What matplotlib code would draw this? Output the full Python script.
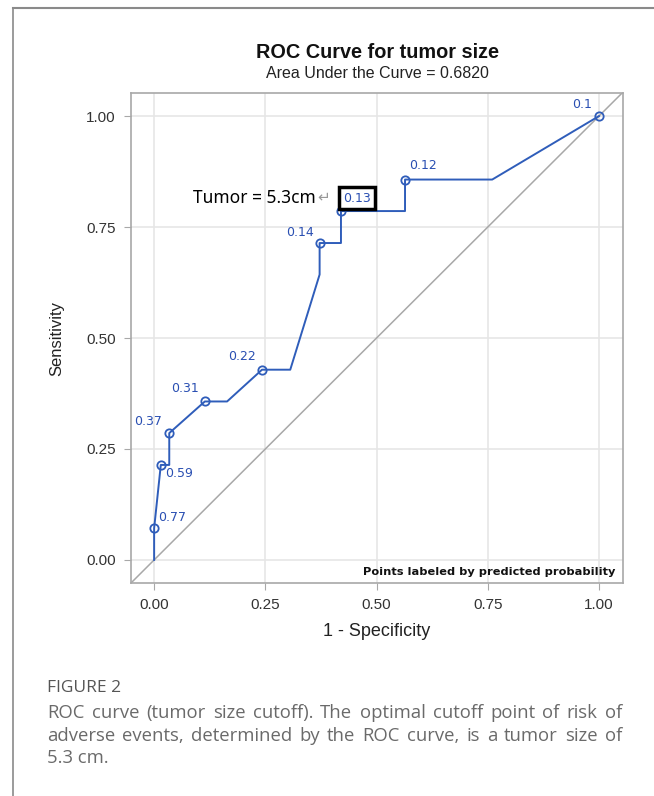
import numpy as np
import matplotlib
matplotlib.use("Agg")
import matplotlib.pyplot as plt
from matplotlib.lines import Line2D

plt.rcParams['font.family'] = ['Liberation Sans', 'DejaVu Sans']

# ROC curve vertices (1 - specificity, sensitivity)
fpr = [0.0, 0.0, 0.015, 0.034, 0.034, 0.114, 0.164, 0.2425, 0.306, 0.372, 0.372,
       0.42, 0.42, 0.564, 0.564, 0.76, 1.0]
tpr = [0.0, 0.0714, 0.214, 0.214, 0.2857, 0.357, 0.357, 0.4286, 0.4286, 0.643, 0.714,
       0.714, 0.786, 0.786, 0.857, 0.857, 1.0]

# points labeled by predicted probability
pt_fpr = [0.0, 0.015, 0.034, 0.114, 0.2425, 0.372, 0.42, 0.564, 1.0]
pt_tpr = [0.0714, 0.214, 0.2857, 0.357, 0.4286, 0.714, 0.786, 0.857, 1.0]
pt_labels = ['0.77', '0.59', '0.37', '0.31', '0.22', '0.14', '0.13', '0.12', '0.1']
# label offsets in pixels (dx, dy)
pt_offsets = [(18, 11), (18, -9), (-21, 12), (-20, 13), (-20, 13), (-20, 11), (16, 13), (18, 14), (-17, 12)]

ticks = [0.0, 0.25, 0.5, 0.75, 1.0]
tick_labels = ['0.00', '0.25', '0.50', '0.75', '1.00']

caption_lines = [
    "ROC curve (tumor size cutoff). The optimal cutoff point of risk of",
    "adverse events, determined by the ROC curve, is a tumor size of",
    "5.3 cm.",
]

BLUE = '#2F5DBA'
LBLUE = '#2A4FB2'
GRID = '#E6E6E6'
SPINE = '#A8A8A8'

fig = plt.figure(figsize=(6.54, 7.96), dpi=100)
ax = fig.add_axes([131 / 654, 1 - 583 / 796, 492 / 654, 490 / 796])

ax.set_xlim(-0.052, 1.054)
ax.set_ylim(-0.052, 1.052)
ax.set_xticks(ticks)
ax.set_yticks(ticks)
ax.set_xticklabels(tick_labels, fontsize=11, color='#333333')
ax.set_yticklabels(tick_labels, fontsize=11, color='#333333')
ax.tick_params(length=5, color=SPINE, pad=6)
ax.grid(True, color=GRID, linewidth=1.2)
ax.set_axisbelow(True)
for s in ax.spines.values():
    s.set_color(SPINE)
    s.set_linewidth(1.2)

# chance diagonal
ax.axline((0, 0), (1, 1), color='#A8A8A8', linewidth=1.1, zorder=1)

# ROC curve
ax.plot(fpr, tpr, color=BLUE, linewidth=1.4, zorder=3)
ax.plot(pt_fpr, pt_tpr, 'o', markersize=6, markerfacecolor='none',
        markeredgecolor=BLUE, markeredgewidth=1.3, zorder=4)

for x, y, lab, (dx, dy) in zip(pt_fpr, pt_tpr, pt_labels, pt_offsets):
    kw = {}
    if lab == '0.13':
        kw['bbox'] = dict(boxstyle='square,pad=0.35', facecolor='white',
                          edgecolor='black', linewidth=2.5)
    ax.annotate(lab, (x, y), xytext=(dx, dy), textcoords='offset pixels',
                ha='center', va='center', fontsize=9, color=LBLUE, zorder=5,
                family='DejaVu Sans', **kw)

# manual annotation of the optimal cutoff
ax.annotate('Tumor = 5.3cm', (0.42, 0.786), xytext=(-25, 13), textcoords='offset pixels',
            ha='right', va='center', fontsize=12.5, color='black', family=['Noto Sans', 'DejaVu Sans'])
ax.annotate('\u21b5', (0.42, 0.786), xytext=(-17, 14), textcoords='offset pixels',
            ha='center', va='center', fontsize=11, color='#999999', family='DejaVu Sans')

ax.text(0.985, 0.022, 'Points labeled by predicted probability', transform=ax.transAxes,
        ha='right', va='center', fontsize=8.2, fontweight='bold', color='#111111',
        family='DejaVu Sans')

ax.set_xlabel('1 - Specificity', fontsize=13, color='#222222', labelpad=8)
ax.set_ylabel('Sensitivity', fontsize=12, color='#222222', labelpad=16)

fig.text(377 / 654, 1 - 52 / 796, 'ROC Curve for tumor size', ha='center', va='center',
         fontsize=14.3, fontweight='bold', color='#111111')
fig.text(377 / 654, 1 - 73 / 796, 'Area Under the Curve = 0.6820', ha='center', va='center',
         fontsize=11.5, color='#222222')

# page frame lines
fig.add_artist(Line2D([13 / 654, 13 / 654], [0, 1 - 8 / 796], transform=fig.transFigure,
                      color='#8A8A8A', linewidth=1.2))
fig.add_artist(Line2D([13 / 654, 1], [1 - 8 / 796, 1 - 8 / 796], transform=fig.transFigure,
                      color='#8A8A8A', linewidth=1.5))

# caption
cap_font = ['Open Sans', 'DejaVu Sans']
fig.text(47 / 654, 1 - 688 / 796, 'FIGURE 2', ha='left', va='center', fontsize=12.5,
         color='#555555', family=cap_font)

renderer = fig.canvas.get_renderer()
x_left, x_right = 47, 622
line_y = [713, 736, 758]
for i, (line, yy) in enumerate(zip(caption_lines, line_y)):
    yf = 1 - yy / 796
    words = line.split(' ')
    if i == len(caption_lines) - 1:
        fig.text(x_left / 654, yf, line, ha='left', va='center', fontsize=13.3,
                 color='#6A6A6A', family=cap_font)
        continue
    texts = [fig.text(0, yf, w, ha='left', va='center', fontsize=13.3, color='#6A6A6A',
                      family=cap_font) for w in words]
    widths = [t.get_window_extent(renderer).width for t in texts]
    gap = (x_right - x_left - sum(widths)) / (len(words) - 1)
    xpos = x_left
    for t, w in zip(texts, widths):
        t.set_x(xpos / 654)
        xpos += w + gap

fig.savefig('out.png', dpi=100, facecolor='white')
